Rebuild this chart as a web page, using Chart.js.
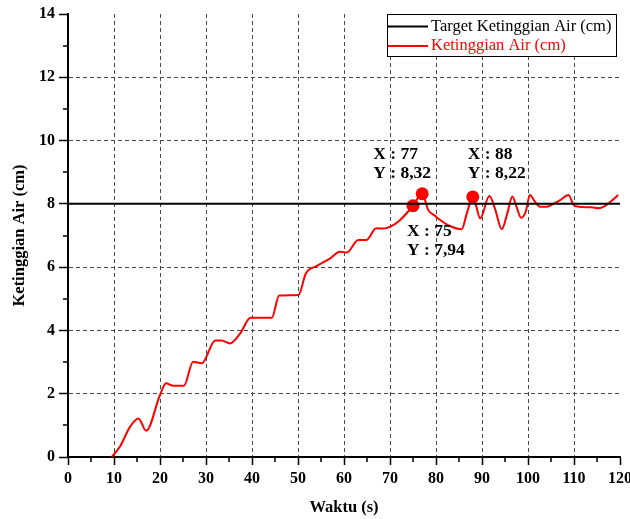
<!DOCTYPE html>
<html>
<head>
<meta charset="utf-8">
<style>
  html, body { margin: 0; padding: 0; background: #ffffff; }
  #wrap { width: 630px; height: 519px; }
</style>
<script src="https://cdn.jsdelivr.net/npm/chart.js@4.4.1/dist/chart.umd.min.js"></script>
</head>
<body>
<div id="wrap"><canvas id="grafik" width="630" height="519"></canvas></div>
<script>
// Waktu (s) and measured water level (cm)
const waktu = [9.5, 11.3, 13.5, 15.3, 17.0, 20.0, 21.3, 22.9, 25.2, 27.2, 29.1, 32.0, 33.4, 35.2, 37.4, 39.7,
  44.3, 45.9, 50.1, 51.7, 54.1, 57.0, 59.1, 60.6, 63.1, 64.9, 67.0, 68.5, 70.7, 72.2, 75.0, 77.0,
  78.3, 79.8, 80.9, 83.0, 85.6, 86.7, 88.0, 88.7, 89.6, 91.6, 92.8, 94.3, 95.5, 96.6, 97.5, 98.5,
  99.5, 100.4, 101.5, 102.6, 104.1, 105.5, 107.0, 108.8, 109.9, 111.0, 113.9, 115.3, 116.7, 118.2, 119.6];
const ketinggian = [0.00, 0.33, 0.96, 1.22, 0.83, 1.96, 2.33, 2.25, 2.25, 3.01, 2.96, 3.68, 3.68, 3.59, 3.90, 4.40,
  4.40, 5.10, 5.12, 5.80, 6.04, 6.28, 6.49, 6.46, 6.86, 6.86, 7.23, 7.22, 7.33, 7.49, 7.94, 8.32,
  7.81, 7.62, 7.49, 7.30, 7.20, 7.70, 8.22, 7.95, 7.54, 8.25, 7.86, 7.20, 7.70, 8.23, 7.91, 7.56,
  7.75, 8.28, 8.07, 7.91, 7.91, 8.00, 8.12, 8.28, 7.97, 7.91, 7.89, 7.86, 7.93, 8.10, 8.28];

// Setpoint
const targetKetinggian = 8;
const rentangWaktu = [0, 120];

// Highlighted points
const titikX = [75, 77, 88];
const titikY = [7.94, 8.32, 8.22];

// Axis ticks
const tickX = [0, 10, 20, 30, 40, 50, 60, 70, 80, 90, 100, 110, 120];
const tickY = [0, 2, 4, 6, 8, 10, 12, 14];
const minorX = [5, 15, 25, 35, 45, 55, 65, 75, 85, 95, 105, 115];
const minorY = [1, 3, 5, 7, 9, 11, 13];

const FONT = '"Liberation Serif", "Times New Roman", serif';

const dataKurva = waktu.map((x, i) => ({ x, y: ketinggian[i] }));
const dataTarget = rentangWaktu.map(x => ({ x, y: targetKetinggian }));
const dataTitik = titikX.map((x, i) => ({ x, y: titikY[i] }));

const fmtAngka = v => String(v).replace('.', ',');

// Short minor tick marks between the labelled ticks
const minorTicks = {
  id: 'minorTicks',
  afterDraw(chart) {
    const { ctx, chartArea: a, scales } = chart;
    ctx.save();
    ctx.strokeStyle = '#000';
    ctx.lineWidth = 1.5;
    ctx.beginPath();
    minorX.forEach(v => {
      const px = Math.round(scales.x.getPixelForValue(v));
      ctx.moveTo(px, a.bottom);
      ctx.lineTo(px, a.bottom + 5);
    });
    minorY.forEach(v => {
      const py = Math.round(scales.y.getPixelForValue(v));
      ctx.moveTo(a.left, py);
      ctx.lineTo(a.left - 5, py);
    });
    ctx.stroke();
    ctx.restore();
  }
};

// Boxed legend in the upper right corner of the plot
const legendKotak = {
  id: 'legendKotak',
  afterDatasetsDraw(chart) {
    const { ctx, chartArea: a } = chart;
    const items = chart.data.datasets.filter(d => d.label);
    const w = 229, h = 42, rowH = 19.5;
    const x = a.right - 4 - w, y = a.top;
    ctx.save();
    ctx.fillStyle = '#fff';
    ctx.fillRect(x, y, w, h);
    ctx.strokeStyle = '#000';
    ctx.lineWidth = 1;
    ctx.strokeRect(x + 0.5, y + 0.5, w, h);
    ctx.font = '16.5px ' + FONT;
    ctx.textBaseline = 'middle';
    ctx.textAlign = 'left';
    items.forEach((d, i) => {
      const cy = y + 12.5 + i * rowH;
      ctx.strokeStyle = d.borderColor;
      ctx.lineWidth = d.borderWidth;
      ctx.beginPath();
      ctx.moveTo(x + 1, cy);
      ctx.lineTo(x + 41, cy);
      ctx.stroke();
      ctx.fillStyle = d.borderColor;
      ctx.fillText(d.label, x + 44, cy);
    });
    ctx.restore();
  }
};

// "X : .. / Y : .." readouts next to the highlighted points
const labelTitik = {
  id: 'labelTitik',
  afterDatasetsDraw(chart, args, opts) {
    const { ctx } = chart;
    const meta = chart.getDatasetMeta(2);
    ctx.save();
    ctx.font = 'bold 17.5px ' + FONT;
    ctx.fillStyle = '#000';
    ctx.textBaseline = 'middle';
    ctx.textAlign = 'left';
    meta.data.forEach((el, i) => {
      const off = opts.offsets[i];
      const p = dataTitik[i];
      ctx.fillText('X : ' + fmtAngka(p.x), el.x + off[0], el.y + off[1]);
      ctx.fillText('Y : ' + fmtAngka(p.y.toFixed(2)), el.x + off[0], el.y + off[1] + 19);
    });
    ctx.restore();
  }
};

const gridWarna = ends => ctx => {
  const v = ctx.tick ? ctx.tick.value : null;
  return (v === null || ends.includes(v)) ? 'rgba(0,0,0,0)' : '#4a4a4a';
};

new Chart(document.getElementById('grafik'), {
  type: 'line',
  data: {
    datasets: [
      {
        label: 'Target Ketinggian Air (cm)',
        data: dataTarget,
        borderColor: '#000000',
        borderWidth: 2,
        pointRadius: 0,
        tension: 0
      },
      {
        label: 'Ketinggian Air (cm)',
        data: dataKurva,
        borderColor: '#ff0000',
        borderWidth: 2,
        pointRadius: 0,
        cubicInterpolationMode: 'monotone'
      },
      {
        label: '',
        data: dataTitik,
        showLine: false,
        pointRadius: 6.5,
        pointBackgroundColor: '#ff0000',
        pointBorderColor: '#ff0000',
        pointBorderWidth: 0,
        borderColor: '#ff0000'
      }
    ]
  },
  options: {
    responsive: false,
    animation: false,
    events: [],
    layout: { padding: { left: 0, right: 10, top: 14, bottom: 0 } },
    plugins: {
      legend: { display: false },
      tooltip: { enabled: false },
      labelTitik: { offsets: [[-6, 26], [-49, -39], [-5, -42]] }
    },
    scales: {
      x: {
        type: 'linear',
        min: 0,
        max: 120,
        afterBuildTicks: s => { s.ticks = tickX.map(v => ({ value: v })); },
        afterFit: s => { s.height = 62; s.paddingLeft = 0; s.paddingRight = 0; },
        ticks: {
          autoSkip: false,
          maxRotation: 0,
          padding: 4,
          color: '#000',
          font: { family: FONT, size: 16, weight: 'bold' },
          callback: v => String(v)
        },
        grid: {
          color: gridWarna([0, 120]),
          lineWidth: 1,
          tickColor: '#000',
          tickWidth: 1.5,
          tickLength: 8
        },
        border: { display: true, color: '#000', width: 2, dash: [4, 3] },
        title: {
          display: true,
          text: 'Waktu (s)',
          color: '#000',
          font: { family: FONT, size: 16.5, weight: 'bold' },
          padding: { top: 0, bottom: 1 }
        }
      },
      y: {
        type: 'linear',
        min: 0,
        max: 14,
        afterBuildTicks: s => { s.ticks = tickY.map(v => ({ value: v })); },
        afterFit: s => { s.width = 68; s.paddingTop = 0; s.paddingBottom = 0; },
        ticks: {
          autoSkip: false,
          padding: 4,
          color: '#000',
          font: { family: FONT, size: 16, weight: 'bold' },
          callback: v => String(v)
        },
        grid: {
          color: gridWarna([0, 14]),
          lineWidth: 1,
          tickColor: '#000',
          tickWidth: 1.5,
          tickLength: 9
        },
        border: { display: true, color: '#000', width: 2, dash: [4, 3] },
        title: {
          display: true,
          text: 'Ketinggian Air (cm)',
          color: '#000',
          font: { family: FONT, size: 16.5, weight: 'bold' },
          padding: { top: 10, bottom: 0 }
        }
      }
    }
  },
  plugins: [minorTicks, legendKotak, labelTitik]
});
</script>
</body>
</html>
